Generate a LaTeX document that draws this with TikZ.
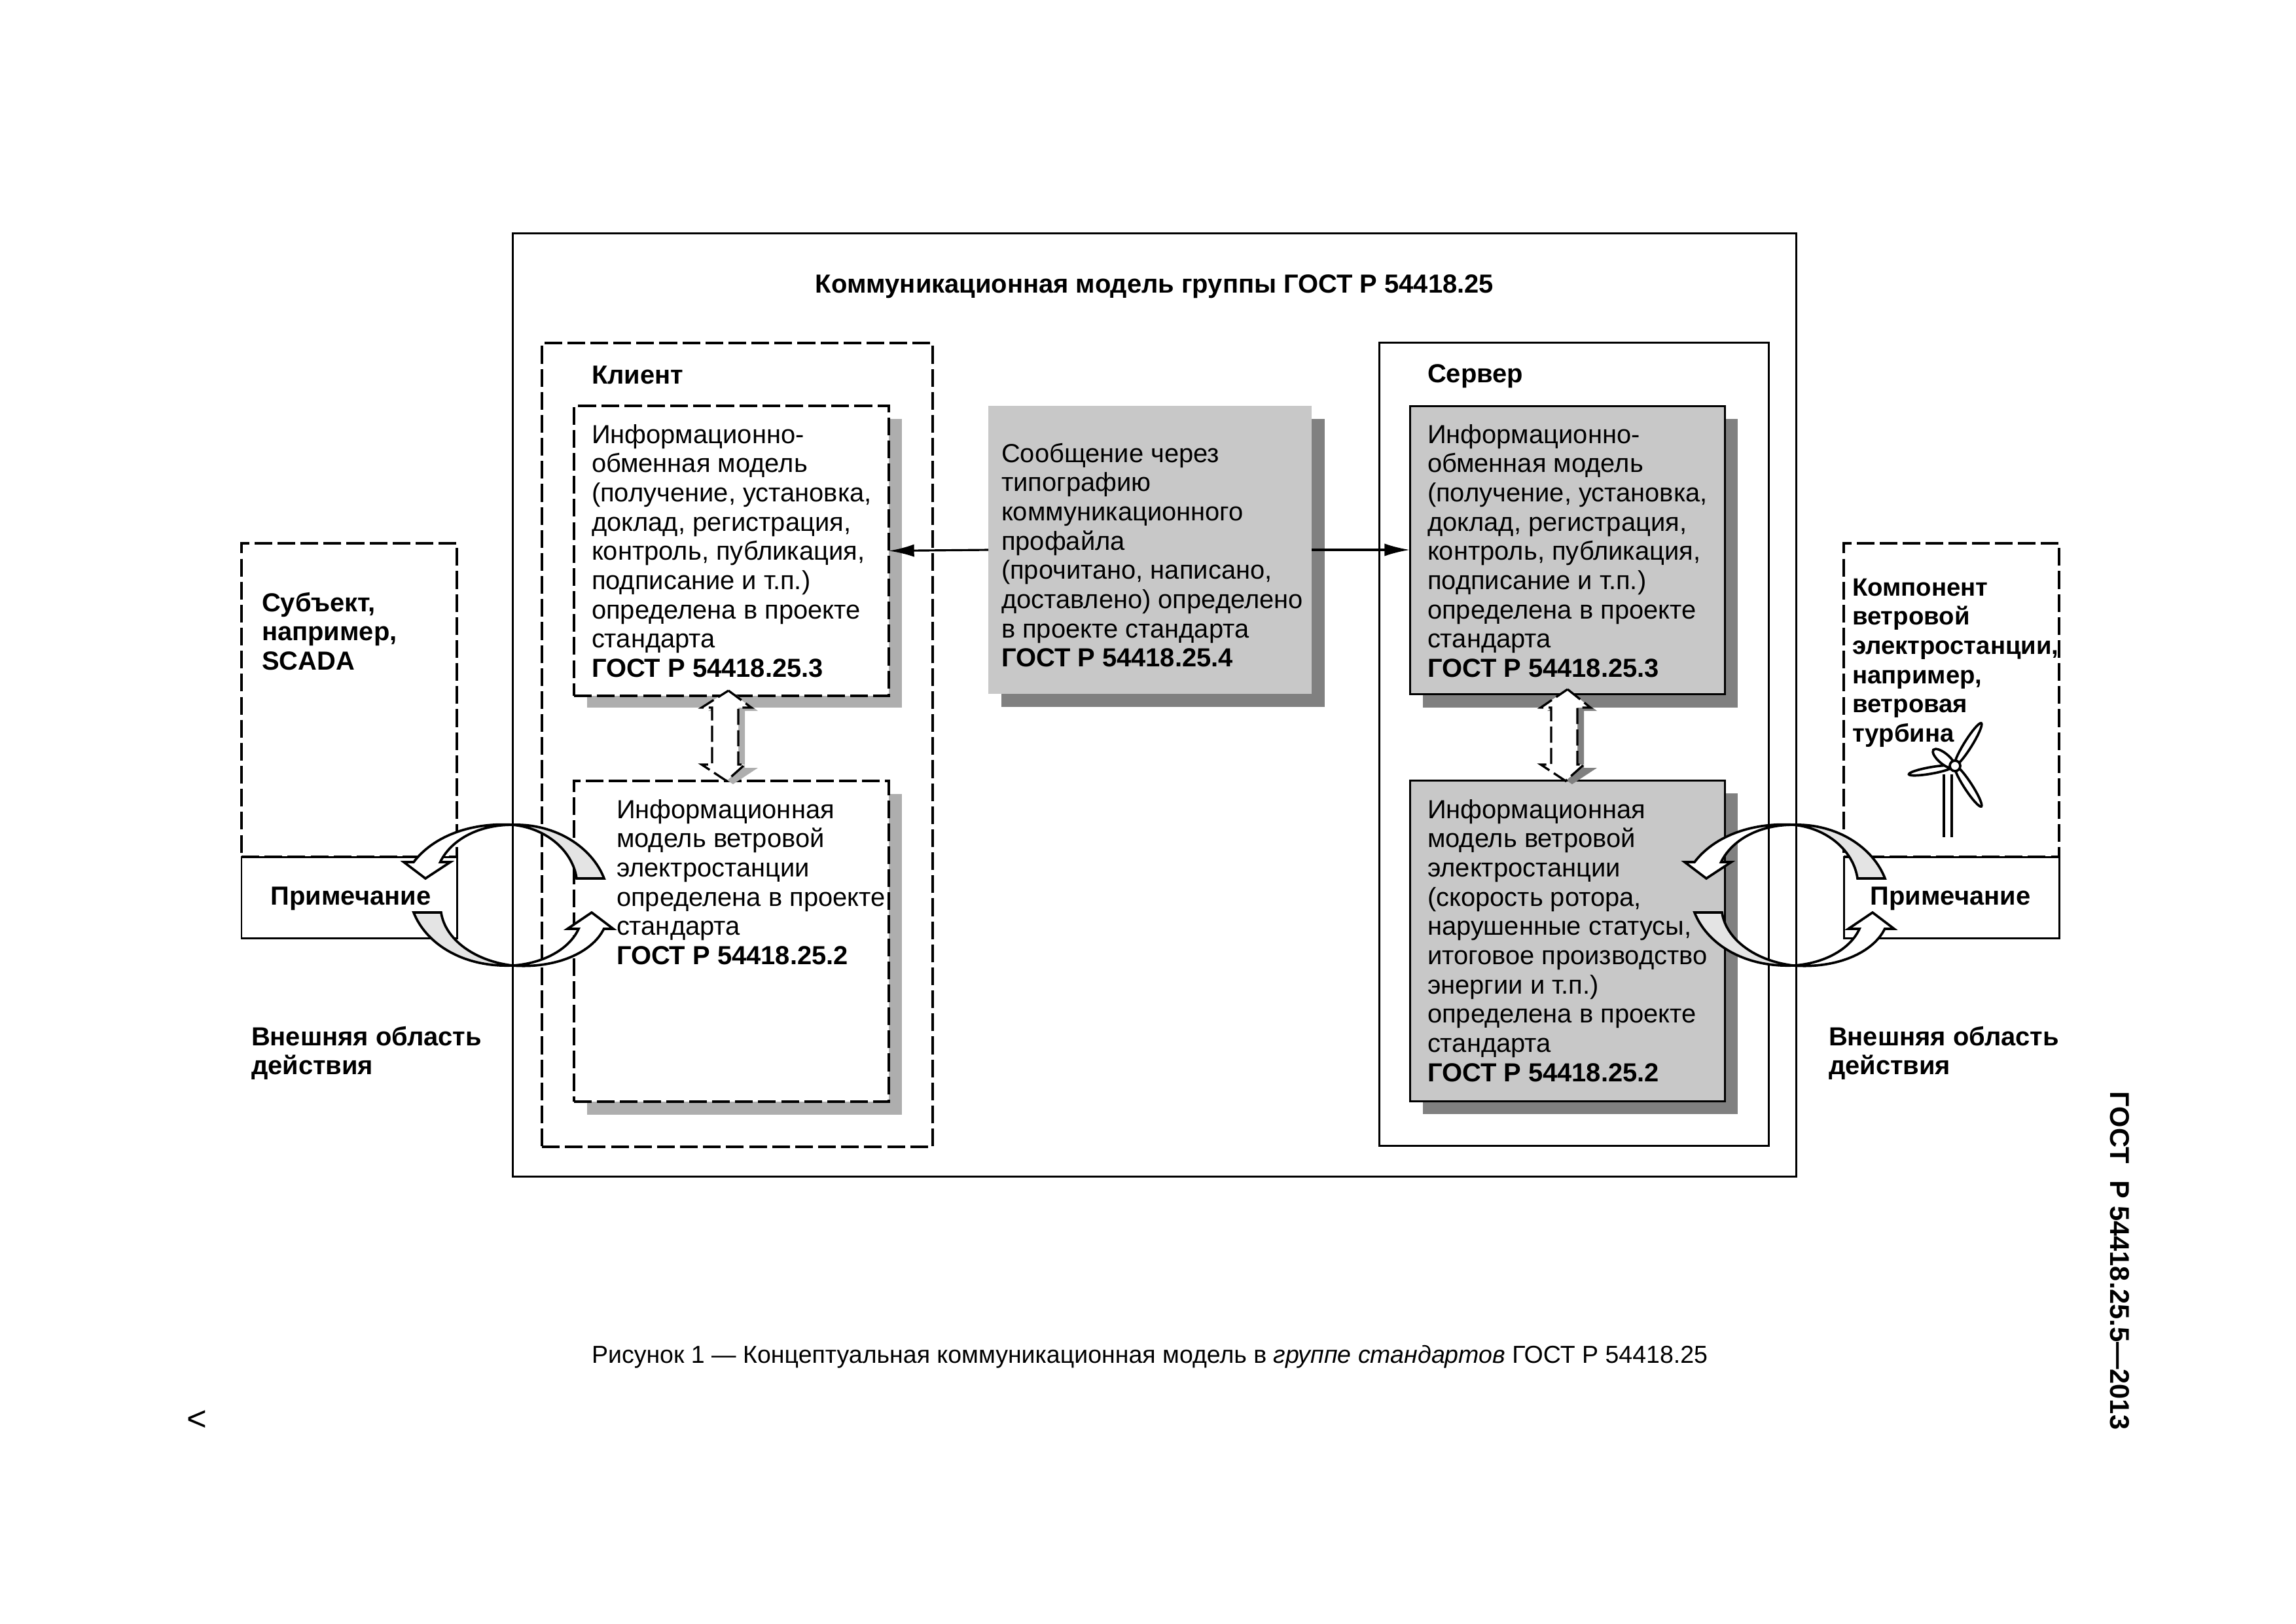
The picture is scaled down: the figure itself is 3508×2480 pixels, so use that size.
\documentclass[tikz,border=0pt]{standalone}
\usepackage{fontspec}
\setmainfont{Liberation Sans}
\usetikzlibrary{arrows.meta}
\definecolor{boxgrey}{HTML}{C8C8C8}
\definecolor{darkshadow}{HTML}{808080}
\definecolor{lightshadow}{HTML}{AEAEAE}
\definecolor{crescent}{HTML}{E4E4E4}
\newcommand{\pxw}{0.01cm}
\newcommand{\LS}{\fontsize{11.35pt}{12.7pt}\selectfont}
\newcommand{\FL}{\rule{0pt}{10pt}}
\tikzset{
  frame/.style={draw=black,line width=0.85pt,fill=white,rectangle,anchor=north west,inner sep=0pt,outer sep=0pt},
  dashframe/.style={frame,line width=0.95pt,dash pattern=on 7.7pt off 2.3pt},
  greyframe/.style={frame,fill=boxgrey},
  nobox/.style={rectangle,anchor=north west,inner sep=0pt,outer sep=0pt,fill=boxgrey},
  shadowd/.style={rectangle,anchor=north west,inner sep=0pt,outer sep=0pt,fill=darkshadow},
  shadowl/.style={rectangle,anchor=north west,inner sep=0pt,outer sep=0pt,fill=lightshadow},
  size/.style n args={2}{minimum width=#1*\pxw,minimum height=#2*\pxw},
  txt/.style={anchor=north west,inner sep=0pt,outer sep=0pt,align=left,font=\LS},
  btxt/.style={txt,font=\LS\bfseries},
  arc line/.style={draw=black,line width=1.05pt,line join=miter},
  conn/.style={line width=0.9pt,{Latex[length=11pt,width=5.5pt]}-},
  blockdash/.style={draw=black,line width=0.95pt,fill=white,dash pattern=on 7pt off 2.3pt},
}
\newcommand{\cycle}[1]{%
  \begin{scope}[shift={(#1,0)}]
    \path[arc line,fill=crescent] (923,1342) .. controls (905,1295) and (850,1258) .. (783,1260)
      .. controls (835,1265) and (875,1300) .. (881,1342) -- cycle;
    \path[arc line,fill=white] (783,1260) .. controls (715,1256) and (660,1280) .. (632,1317)
      -- (617,1317) -- (650,1342) -- (688,1317) -- (672.6,1317)
      .. controls (688,1285) and (728,1260) .. (783,1260);
    \path[arc line,fill=crescent] (632,1394) .. controls (650,1440) and (705,1478) .. (783,1475)
      .. controls (725,1468) and (680,1435) .. (674,1394) -- cycle;
    \path[arc line,fill=white] (783,1475) .. controls (850,1480) and (905,1455) .. (922.6,1419)
      -- (937,1419) -- (904,1394) -- (867,1419) -- (884,1419)
      .. controls (870,1450) and (830,1472) .. (783,1475);
  \end{scope}}
\newcommand{\dbl}[3]{%
  \begin{scope}[shift={(#1,0)}]
    \fill[#3] (1123,1060) -- (1158,1086) -- (1138,1086) -- (1138,1173) -- (1158,1173) -- (1120,1198) -- (1082,1173) -- (1098,1173) -- (1098,1086) -- (1082,1086) -- cycle;
    \path[blockdash] (1113,#2) -- (1148,1081) -- (1128,1081) -- (1128,1168) -- (1138,1168) -- (1110,1193) -- (1072,1168) -- (1088,1168) -- (1088,1081) -- (1072,1081) -- cycle;
  \end{scope}}
\begin{document}
\begin{tikzpicture}[x=0.01cm,y=-0.01cm]
\useasboundingbox[fill=white] (0,0) rectangle (3508,2480);

% external frames
\node[dashframe,size={329}{479}] (subj) at (369,830) {};
\node[frame,size={329}{124}] (note1) at (369,1309) {};
\node[dashframe,size={329}{479}] (comp) at (2817,830) {};
\node[frame,size={329}{124}] (note2) at (2817,1309) {};
\node[frame,size={1961}{1441},fill=white] (model) at (783,356) {};

% client
\node[dashframe,size={597}{1228}] (client) at (828,524) {};
\node[shadowl,size={481}{441}] at (897,640) {};
\node[shadowl,size={481}{490}] at (897,1213) {};
\node[dashframe,size={481}{443}] (cinfo) at (877,620) {};
\node[dashframe,size={481}{490}] (cwind) at (877,1193) {};

% server
\node[frame,size={595}{1227}] (server) at (2107,523) {};
\node[shadowd,size={481}{441}] at (2174,640) {};
\node[shadowd,size={481}{490}] at (2174,1212) {};
\node[greyframe,size={481}{440}] (sinfo) at (2154,620) {};
\node[greyframe,size={481}{490}] (swind) at (2154,1192) {};

% message
\node[shadowd,size={494}{440}] at (1530,640) {};
\node[nobox,size={494}{440}] (msg) at (1510,620) {};

% connectors
\draw[conn] (cinfo.east) -- (msg.west);
\draw[conn] (sinfo.west) -- (msg.east);

\dbl{0}{1055}{lightshadow}
\dbl{1282}{1053}{darkshadow}

% texts
\node[btxt,anchor=base] (title) at (1764,447) {Коммуникационная модель группы ГОСТ Р 54418.25};
\node[btxt] (tclient) at (904,551) {\FL Клиент};
\node[btxt] (tserver) at (2181,549) {\FL Сервер};
\node[txt] (t1) at (904,642) {\FL Информационно-\\обменная модель\\(получение, установка,\\доклад, регистрация,\\контроль, публикация,\\подписание и т.п.)\\определена в проекте\\стандарта\\\textbf{ГОСТ Р 54418.25.3}};
\node[txt] (t2) at (942,1215) {\FL Информационная\\модель ветровой\\электростанции\\определена в проекте\\стандарта\\\textbf{ГОСТ Р 54418.25.2}};
\node[txt] (t3) at (1530,671) {\FL Сообщение через\\типографию\\коммуникационного\\профайла\\(прочитано, написано,\\доставлено) определено\\в проекте стандарта\\\textbf{ГОСТ Р 54418.25.4}};
\node[txt] (t4) at (2181,642) {\FL Информационно-\\обменная модель\\(получение, установка,\\доклад, регистрация,\\контроль, публикация,\\подписание и т.п.)\\определена в проекте\\стандарта\\\textbf{ГОСТ Р 54418.25.3}};
\node[txt] (t5) at (2181,1215) {\FL Информационная\\модель ветровой\\электростанции\\(скорость ротора,\\нарушенные статусы,\\итоговое производство\\энергии и т.п.)\\определена в проекте\\стандарта\\\textbf{ГОСТ Р 54418.25.2}};
\node[btxt] (t6) at (400,899) {\FL Субъект,\\например,\\SCADA};
\node[btxt,font=\fontsize{10.9pt}{12.7pt}\selectfont\bfseries] (t7) at (2830,875) {\FL Компонент\\ветровой\\электростанции,\\например,\\ветровая\\турбина};
\node[btxt,anchor=center] (n1) at (536,1373) {Примечание};
\node[btxt,anchor=center] (n2) at (2980,1373) {Примечание};
\node[btxt] (e1) at (384,1562) {\FL Внешняя область\\действия};
\node[btxt] (e2) at (2794,1562) {\FL Внешняя область\\действия};
\node[txt,font=\fontsize{10.67pt}{12.7pt}\selectfont] (cap) at (904,2047) {\FL Рисунок 1 — Концептуальная коммуникационная модель в \textit{группе стандартов} ГОСТ Р 54418.25};
\node[btxt,anchor=center,rotate=-90] (side) at (3239,1926) {\fontsize{11.8pt}{14pt}\selectfont ГОСТ\hspace{0.35em} Р 54418.25.5—2013};
\node[anchor=center,inner sep=0pt] (lt) at (301,2170) {\fontsize{15pt}{16pt}\selectfont <};

% turbine
\begin{scope}[line width=1.05pt]
  \draw (2970,1183) -- (2970,1279);
  \draw (2982,1183) -- (2982,1279);
  \draw[fill=white,rotate around={58:(3007,1137)}] (3007,1137) ellipse (38 and 6);
  \draw[fill=white,rotate around={-57:(3007,1201)}] (3007,1201) ellipse (37 and 6);
  \draw[fill=white,rotate around={10:(2950,1177)}] (2950,1177) ellipse (34 and 5);
  \draw[fill=white,rotate around={-40:(2970,1159)}] (2970,1159) ellipse (21 and 8);
  \draw[fill=white] (2987,1170) circle (8);
\end{scope}

% cycle arrows
\cycle{0}
\cycle{1957}
\end{tikzpicture}
\end{document}
